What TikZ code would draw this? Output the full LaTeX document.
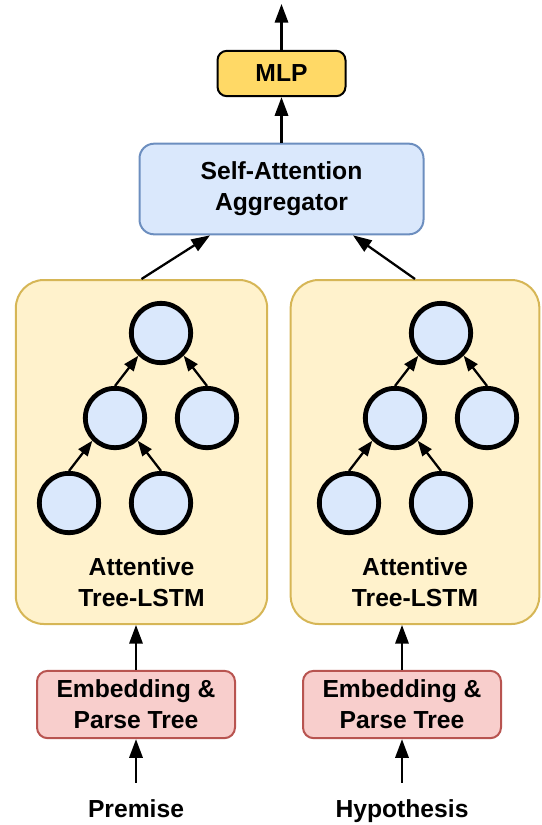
\documentclass[tikz,border=0pt]{standalone}
\usepackage{fontspec}
\setmainfont{Liberation Sans}
\usepackage{tikz}
\usetikzlibrary{arrows.meta}
\usetikzlibrary{calc}
\usepackage{xcolor}
\definecolor{bluefill}{HTML}{DAE8FC}
\definecolor{blueline}{HTML}{6C8EBF}
\definecolor{yellowfill}{HTML}{FFF2CC}
\definecolor{yellowline}{HTML}{D6B656}
\definecolor{redfill}{HTML}{F8CECC}
\definecolor{redline}{HTML}{B85450}
\definecolor{mlpfill}{HTML}{FFD966}

\begin{document}
\begin{tikzpicture}[x=0.75pt,y=-0.75pt,
  txt/.style={font=\fontsize{18.5pt}{23.5pt}\selectfont\bfseries,align=center},
  box/.style={txt,draw,line width=1.5pt,rounded corners=#1},
  cell/.style={circle,draw,line width=3.6pt,fill=bluefill,minimum size=44.5pt,inner sep=0pt},
  arr/.style={-{Triangle[length=14pt,width=10pt]},line width=1.7pt},
  tarr/.style={-{Triangle[length=11.5pt,width=8.5pt]},line width=1.7pt}]
\useasboundingbox (0,0) rectangle (542,825);
 \node[box=7pt,fill=mlpfill,draw=black,minimum width=96pt,minimum height=34pt] (mlp) at (281.5,73.5) {MLP};
 \node[box=11pt,fill=bluefill,draw=blueline,minimum width=213pt,minimum height=68pt] (agg) at (281.5,189) {Self-Attention\\Aggregator};
 \coordinate (out) at (281.5,4);
% tree boxes
 \node[box=21pt,fill=yellowfill,draw=yellowline,minimum width=188.5pt,minimum height=258pt] (treeL) at (141.5,452) {};
 \node[box=21pt,fill=yellowfill,draw=yellowline,minimum width=186.5pt,minimum height=258pt] (treeR) at (415,452) {};
 \node[txt] (lblL) at (141.5,582) {Attentive\\Tree-LSTM};
 \node[txt] (lblR) at (415,582) {Attentive\\Tree-LSTM};
 \node[cell] (L1) at (161,333) {};
 \node[cell] (L2) at (115,418) {};
 \node[cell] (L3) at (207,418) {};
 \node[cell] (L4) at (69,503) {};
 \node[cell] (L5) at (161,503) {};
 \node[cell] (R1) at (441,333) {};
 \node[cell] (R2) at (395,418) {};
 \node[cell] (R3) at (487,418) {};
 \node[cell] (R4) at (349,503) {};
 \node[cell] (R5) at (441,503) {};
 \draw[tarr] (L2.north) -- (L1.225);
 \draw[tarr] (L3.north) -- (L1.315);
 \draw[tarr] (L4.north) -- (L2.225);
 \draw[tarr] (L5.north) -- (L2.315);
 \draw[tarr] (R2.north) -- (R1.225);
 \draw[tarr] (R3.north) -- (R1.315);
 \draw[tarr] (R4.north) -- (R2.225);
 \draw[tarr] (R5.north) -- (R2.315);
% inputs
 \node[box=8pt,fill=redfill,draw=redline,minimum width=148.5pt,minimum height=50.5pt] (embL) at (136,704.5) {Embedding \&\\Parse Tree};
 \node[box=8pt,fill=redfill,draw=redline,minimum width=148.5pt,minimum height=50.5pt] (embR) at (402,704.5) {Embedding \&\\Parse Tree};
 \node[txt,text height=14pt,text depth=4pt,inner ysep=12pt] (prem) at (136,811) {Premise};
 \node[txt,text height=14pt,text depth=4pt,inner ysep=12pt] (hyp) at (402,811) {Hypothesis};
 \draw[arr] (prem) -- (embL);
 \draw[arr] (hyp) -- (embR);
 \draw[arr] (embL) -- (embL |- treeL.south);
 \draw[arr] (embR) -- (embR |- treeR.south);
 \draw[arr] (treeL.north) -- ($(agg.south west)!0.25!(agg.south east)$);
 \draw[arr] (treeR.north) -- ($(agg.south west)!0.75!(agg.south east)$);
 \draw[arr] (agg) -- (mlp);
 \draw[arr] (mlp) -- (out);
\end{tikzpicture}
\end{document}
